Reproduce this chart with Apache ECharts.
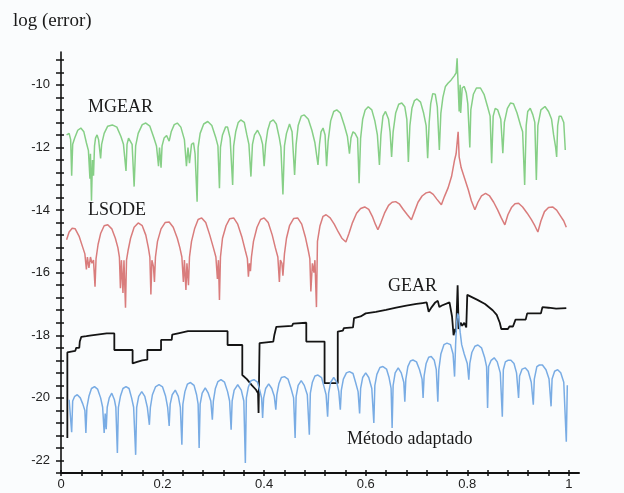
<!DOCTYPE html>
<html>
<head>
<meta charset="utf-8">
<script src="https://cdn.jsdelivr.net/npm/echarts@6/dist/echarts.min.js"></script>
<style>
html,body{margin:0;padding:0;background:#fafcfd;}
#c{width:624px;height:493px;}
</style>
</head>
<body>
<div id="c"></div>
<script>
// ---- data (x, log(error)) ----
const mgear = [[0.011,-11.6],[0.016,-11.55],[0.019,-11.75],[0.021,-12.9],[0.023,-11.9],
[0.027,-11.7],[0.033,-11.45],[0.039,-11.38],[0.045,-11.5],[0.05,-11.85],
[0.054,-12.1],[0.057,-13.0],[0.058,-12.2],[0.060,-13.7],[0.062,-12.4],[0.064,-12.9],[0.066,-11.95],
[0.068,-11.7],[0.071,-11.6],[0.074,-11.75],[0.078,-12.35],[0.08,-11.9],
[0.085,-11.55],[0.092,-11.32],[0.101,-11.28],[0.11,-11.35],[0.118,-11.65],[0.123,-11.9],
[0.128,-12.75],[0.13,-11.9],[0.133,-11.7],[0.136,-11.72],[0.14,-11.9],[0.144,-13.25],[0.147,-11.95],
[0.152,-11.55],[0.16,-11.27],[0.167,-11.22],[0.175,-11.32],[0.183,-11.7],[0.188,-11.95],
[0.192,-12.6],[0.194,-12.0],[0.197,-12.65],[0.199,-11.95],
[0.203,-11.7],[0.208,-11.62],[0.213,-11.8],
[0.217,-11.5],[0.223,-11.27],[0.229,-11.22],[0.236,-11.35],[0.243,-11.75],
[0.247,-12.6],[0.25,-12.0],[0.253,-12.5],[0.257,-11.9],[0.261,-11.85],[0.264,-12.2],
[0.268,-13.73],[0.27,-12.0],
[0.274,-11.55],[0.281,-11.25],[0.289,-11.17],[0.297,-11.3],[0.305,-11.7],[0.309,-11.95],
[0.312,-13.3],[0.314,-12.0],
[0.318,-11.6],[0.324,-11.35],[0.328,-11.35],[0.333,-11.7],
[0.338,-13.2],[0.34,-11.95],
[0.344,-11.5],[0.349,-11.2],[0.354,-11.12],[0.361,-11.2],[0.366,-11.6],[0.37,-11.9],
[0.374,-12.93],[0.377,-11.9],
[0.381,-11.6],[0.387,-11.45],[0.393,-11.65],[0.397,-11.9],
[0.4,-12.6],[0.403,-11.9],
[0.407,-11.45],[0.412,-11.18],[0.418,-11.12],[0.424,-11.25],[0.43,-11.7],[0.433,-12.0],
[0.437,-13.5],[0.44,-11.95],
[0.444,-11.55],[0.45,-11.25],[0.455,-11.5],
[0.46,-12.88],[0.463,-11.9],
[0.467,-11.3],[0.473,-11.0],[0.479,-10.96],[0.487,-11.1],[0.494,-11.45],[0.5,-11.85],
[0.506,-12.56],[0.509,-11.9],
[0.512,-11.5],[0.516,-11.38],[0.52,-11.6],
[0.523,-12.6],[0.526,-11.8],
[0.531,-11.15],[0.537,-10.85],[0.543,-10.8],[0.55,-10.9],[0.558,-11.3],[0.564,-11.65],
[0.568,-12.2],[0.571,-11.7],
[0.575,-11.5],[0.579,-11.55],[0.584,-11.7],
[0.587,-13.14],[0.59,-11.7],
[0.594,-11.1],[0.599,-10.8],[0.605,-10.7],[0.612,-10.8],[0.618,-11.15],[0.623,-11.6],
[0.627,-12.56],[0.63,-11.6],
[0.634,-11.0],[0.639,-10.85],[0.645,-11.1],[0.648,-11.5],
[0.651,-12.3],[0.654,-11.5],
[0.659,-10.9],[0.665,-10.62],[0.671,-10.58],[0.677,-10.7],[0.681,-11.1],
[0.684,-12.46],[0.687,-11.3],
[0.691,-10.75],[0.696,-10.5],[0.701,-10.45],[0.708,-10.55],[0.714,-10.9],[0.719,-11.3],
[0.722,-12.34],[0.725,-11.2],
[0.728,-10.6],[0.732,-10.28],[0.737,-10.3],[0.741,-10.7],
[0.745,-12.08],[0.748,-10.9],
[0.752,-10.4],[0.757,-10.05],[0.762,-9.95],[0.768,-9.85],[0.774,-9.72],[0.778,-9.62],
[0.78,-9.15],[0.781,-9.6],
[0.784,-10.85],[0.786,-10.0],[0.787,-10.9],
[0.79,-10.1],[0.794,-10.05],[0.798,-10.25],[0.801,-10.6],
[0.805,-12.0],[0.807,-10.8],
[0.812,-10.3],[0.818,-10.1],[0.826,-10.1],[0.833,-10.3],[0.84,-10.7],[0.845,-11.0],
[0.848,-12.5],[0.851,-11.0],
[0.855,-10.75],[0.86,-10.8],[0.866,-11.1],
[0.87,-12.18],[0.873,-11.2],
[0.879,-10.75],[0.885,-10.58],[0.891,-10.6],[0.898,-10.9],[0.905,-11.3],[0.909,-11.5],
[0.913,-13.2],[0.916,-11.3],
[0.919,-10.85],[0.924,-10.75],[0.929,-10.95],[0.933,-11.2],
[0.936,-13.04],[0.939,-11.3],
[0.945,-10.8],[0.953,-10.69],[0.96,-10.85],[0.966,-11.1],[0.97,-11.6],
[0.974,-12.0],[0.976,-12.3],[0.978,-11.3],
[0.981,-11.0],[0.985,-11.0],[0.99,-11.2],[0.993,-12.08]];

const lsode = [[0.011,-14.95],[0.016,-14.7],[0.022,-14.58],[0.028,-14.6],[0.036,-14.85],[0.043,-15.2],[0.047,-15.4],
[0.05,-15.9],[0.052,-15.5],[0.055,-15.85],[0.058,-15.5],[0.061,-15.7],[0.064,-15.6],[0.067,-16.45],[0.069,-15.55],
[0.073,-15.1],[0.078,-14.75],[0.085,-14.5],[0.092,-14.47],[0.1,-14.6],[0.107,-14.9],[0.112,-15.2],[0.115,-15.5],
[0.117,-16.5],[0.119,-15.6],[0.122,-16.65],[0.124,-15.6],[0.127,-17.12],[0.129,-15.6],[0.132,-15.3],
[0.137,-14.9],[0.144,-14.55],[0.152,-14.41],[0.16,-14.5],[0.167,-14.8],[0.172,-15.2],[0.175,-15.5],
[0.177,-16.7],[0.179,-15.6],[0.182,-15.8],[0.184,-16.3],[0.186,-15.5],
[0.19,-15.0],[0.197,-14.6],[0.205,-14.4],[0.213,-14.38],[0.221,-14.55],[0.229,-14.9],[0.234,-15.2],[0.238,-15.5],
[0.241,-16.3],[0.243,-15.6],[0.246,-16.55],[0.248,-15.7],[0.251,-16.4],[0.253,-15.5],
[0.257,-15.0],[0.263,-14.6],[0.27,-14.3],[0.277,-14.25],[0.285,-14.4],[0.293,-14.8],[0.3,-15.2],[0.305,-15.5],
[0.308,-16.2],[0.31,-15.6],[0.312,-16.87],[0.314,-15.5],
[0.318,-14.9],[0.325,-14.5],[0.332,-14.28],[0.34,-14.25],[0.348,-14.45],[0.356,-14.85],[0.363,-15.3],[0.367,-15.55],
[0.369,-16.13],[0.371,-15.7],[0.373,-15.95],[0.375,-15.5],
[0.379,-15.0],[0.386,-14.55],[0.393,-14.3],[0.4,-14.25],[0.408,-14.4],[0.416,-14.8],[0.422,-15.2],[0.427,-15.5],
[0.43,-16.3],[0.432,-15.6],[0.435,-15.7],[0.437,-16.1],[0.44,-15.4],
[0.444,-14.9],[0.45,-14.5],[0.458,-14.27],[0.466,-14.25],[0.474,-14.45],[0.481,-14.85],[0.487,-15.3],[0.49,-15.55],
[0.492,-16.6],[0.495,-15.7],[0.498,-16.0],[0.5,-15.6],[0.503,-17.1],[0.505,-15.0],
[0.51,-14.5],[0.516,-14.2],[0.522,-14.15],[0.53,-14.25],[0.538,-14.45],[0.546,-14.7],[0.553,-14.9],[0.561,-15.02],
[0.567,-14.75],[0.574,-14.4],[0.582,-14.1],[0.59,-13.95],[0.598,-13.9],[0.606,-13.98],[0.613,-14.2],[0.619,-14.45],[0.624,-14.63],
[0.63,-14.4],[0.637,-14.1],[0.645,-13.85],[0.652,-13.75],[0.659,-13.73],[0.666,-13.8],[0.674,-13.98],[0.682,-14.15],[0.69,-14.31],
[0.696,-14.05],[0.703,-13.75],[0.711,-13.55],[0.719,-13.45],[0.726,-13.42],[0.733,-13.5],[0.74,-13.65],[0.749,-13.83],
[0.755,-13.57],[0.762,-13.3],[0.769,-12.93],[0.775,-12.4],[0.778,-12.2],[0.782,-11.5],[0.784,-12.3],[0.788,-12.65],[0.795,-13.0],[0.802,-13.35],[0.808,-13.7],[0.815,-13.99],
[0.821,-13.75],[0.828,-13.55],[0.836,-13.47],[0.844,-13.55],[0.852,-13.75],[0.86,-14.0],[0.867,-14.25],[0.874,-14.47],
[0.88,-14.15],[0.887,-13.92],[0.894,-13.8],[0.901,-13.78],[0.909,-13.9],[0.918,-14.1],[0.926,-14.3],[0.933,-14.5],[0.939,-14.7],
[0.945,-14.35],[0.952,-14.05],[0.96,-13.92],[0.968,-13.9],[0.976,-14.0],[0.984,-14.2],[0.99,-14.35],[0.995,-14.55]];

const gear = [[0.0125,-21.28],[0.0125,-18.55],[0.02,-18.52],[0.028,-18.5],[0.03,-18.4],[0.036,-18.4],[0.037,-18.2],[0.04,-18.05],[0.05,-18.03],[0.06,-18.0],[0.063,-17.96],[0.09,-17.94],[0.105,-17.94],[0.105,-18.47],[0.141,-18.47],[0.141,-18.9],[0.15,-18.85],[0.16,-18.8],[0.17,-18.78],[0.17,-18.47],[0.197,-18.47],[0.197,-18.15],[0.218,-18.15],[0.219,-17.98],[0.233,-17.93],[0.25,-17.87],[0.328,-17.87],[0.328,-18.31],[0.357,-18.31],[0.357,-19.27],[0.366,-19.4],[0.376,-19.6],[0.384,-19.74],[0.388,-19.85],[0.389,-20.48],[0.391,-18.25],[0.418,-18.2],[0.42,-18.0],[0.424,-17.73],[0.455,-17.7],[0.457,-17.63],[0.483,-17.6],[0.483,-18.2],[0.519,-18.2],[0.519,-19.53],[0.545,-19.53],[0.545,-17.88],[0.555,-17.85],[0.557,-17.77],[0.575,-17.75],[0.577,-17.45],[0.59,-17.4],[0.6,-17.3],[0.62,-17.25],[0.64,-17.19],[0.66,-17.12],[0.68,-17.05],[0.7,-17.0],[0.712,-16.97],[0.72,-16.95],[0.724,-17.25],[0.73,-17.1],[0.737,-16.95],[0.742,-16.9],[0.745,-17.1],[0.75,-17.05],[0.765,-16.95],[0.77,-17.4],[0.773,-18.0],[0.776,-17.8],[0.778,-17.9],[0.781,-16.4],[0.783,-17.8],[0.787,-17.6],[0.79,-17.7],[0.794,-17.6],[0.798,-17.75],[0.8,-16.71],[0.805,-16.75],[0.82,-16.87],[0.835,-17.0],[0.85,-17.2],[0.858,-17.35],[0.864,-17.6],[0.867,-17.8],[0.88,-17.8],[0.883,-17.72],[0.89,-17.72],[0.895,-17.5],[0.915,-17.5],[0.918,-17.3],[0.945,-17.3],[0.948,-17.1],[0.96,-17.12],[0.975,-17.15],[0.995,-17.13]];

const metodo = [[0.016,-20.06],[0.019,-20.0],[0.021,-21.1],[0.023,-20.1],[0.027,-19.95],[0.032,-19.9],[0.038,-20.0],[0.043,-20.2],[0.047,-20.4],[0.049,-21.12],[0.051,-20.3],
[0.055,-19.95],[0.06,-19.7],[0.066,-19.64],[0.072,-19.72],[0.078,-20.0],[0.082,-20.3],
[0.085,-21.12],[0.087,-20.5],[0.089,-21.0],[0.091,-20.3],
[0.095,-20.0],[0.1,-19.85],[0.105,-20.05],[0.108,-20.3],
[0.111,-21.76],[0.113,-20.3],
[0.117,-19.95],[0.122,-19.7],[0.128,-19.64],[0.134,-19.7],[0.139,-20.0],[0.143,-20.3],
[0.147,-21.82],[0.149,-20.3],
[0.153,-19.95],[0.159,-19.8],[0.165,-19.95],[0.17,-20.3],
[0.174,-20.86],[0.176,-20.3],
[0.18,-19.9],[0.186,-19.65],[0.193,-19.58],[0.2,-19.65],[0.206,-19.95],[0.21,-20.3],
[0.213,-20.9],[0.215,-20.2],
[0.219,-19.9],[0.225,-19.75],[0.231,-19.95],[0.235,-20.3],
[0.238,-21.5],[0.24,-20.2],
[0.244,-19.8],[0.249,-19.56],[0.255,-19.51],[0.262,-19.6],[0.267,-19.9],[0.27,-20.2],
[0.272,-21.6],[0.274,-20.2],
[0.278,-19.85],[0.284,-19.68],[0.29,-19.85],[0.295,-20.1],
[0.298,-20.7],[0.3,-20.1],
[0.304,-19.7],[0.309,-19.48],[0.315,-19.42],[0.322,-19.5],[0.328,-19.8],[0.332,-20.1],
[0.335,-21.02],[0.337,-20.1],
[0.341,-19.75],[0.348,-19.58],[0.355,-19.75],[0.36,-20.1],
[0.363,-22.08],[0.365,-20.0],
[0.369,-19.65],[0.374,-19.45],[0.38,-19.42],[0.387,-19.5],[0.392,-19.8],[0.395,-20.0],
[0.397,-20.64],[0.399,-20.0],
[0.403,-19.7],[0.409,-19.55],[0.415,-19.7],[0.42,-19.95],
[0.423,-20.38],[0.425,-19.9],
[0.429,-19.55],[0.434,-19.35],[0.44,-19.32],[0.447,-19.4],[0.453,-19.7],[0.458,-20.0],
[0.461,-21.28],[0.463,-19.95],
[0.467,-19.6],[0.473,-19.45],[0.479,-19.6],[0.485,-19.9],
[0.489,-21.18],[0.491,-19.85],
[0.495,-19.5],[0.5,-19.3],[0.506,-19.27],[0.513,-19.35],[0.518,-19.65],[0.522,-19.9],
[0.525,-20.6],[0.527,-19.85],
[0.531,-19.5],[0.537,-19.35],[0.543,-19.5],[0.547,-19.8],
[0.55,-20.38],[0.552,-19.75],
[0.556,-19.4],[0.562,-19.2],[0.568,-19.16],[0.575,-19.22],[0.58,-19.5],[0.585,-19.8],
[0.588,-20.5],[0.59,-19.7],
[0.594,-19.35],[0.6,-19.2],[0.606,-19.35],[0.612,-19.7],
[0.616,-20.8],[0.618,-19.6],
[0.622,-19.25],[0.628,-19.03],[0.634,-19.0],[0.641,-19.08],[0.646,-19.35],[0.65,-19.7],
[0.652,-20.96],[0.654,-19.6],
[0.658,-19.2],[0.664,-19.04],[0.67,-19.2],[0.675,-19.5],
[0.677,-20.12],[0.679,-19.4],
[0.683,-19.0],[0.688,-18.82],[0.693,-18.79],[0.7,-18.85],[0.706,-19.1],[0.711,-19.4],
[0.713,-20.0],[0.715,-19.3],
[0.719,-18.9],[0.724,-18.7],[0.729,-18.68],[0.735,-18.8],[0.739,-19.1],
[0.742,-20.12],[0.744,-19.1],
[0.748,-18.6],[0.754,-18.3],[0.76,-18.25],[0.767,-18.3],[0.772,-18.6],
[0.775,-19.32],[0.777,-18.3],[0.779,-17.6],[0.781,-17.3],[0.783,-17.4],[0.786,-17.9],[0.789,-18.3],[0.794,-18.6],[0.8,-18.9],
[0.803,-19.42],[0.805,-18.9],
[0.809,-18.55],[0.815,-18.35],[0.821,-18.31],[0.828,-18.4],[0.834,-18.7],[0.838,-19.0],
[0.84,-20.32],[0.842,-19.0],
[0.847,-18.8],[0.853,-18.72],[0.859,-18.85],[0.865,-19.2],
[0.869,-20.6],[0.871,-19.1],
[0.875,-18.85],[0.88,-18.8],[0.886,-18.8],[0.892,-18.9],[0.897,-19.2],
[0.901,-20.0],[0.903,-19.3],
[0.908,-19.08],[0.914,-19.04],[0.92,-19.15],[0.926,-19.5],
[0.93,-20.22],[0.932,-19.4],
[0.937,-19.0],[0.942,-18.95],[0.948,-18.95],[0.955,-19.1],[0.961,-19.4],
[0.965,-20.27],[0.967,-19.4],
[0.972,-19.15],[0.978,-19.1],[0.984,-19.2],[0.99,-19.5],
[0.995,-21.4],[0.997,-19.6]];

const seriesNames = ['MGEAR', 'LSODE', 'GEAR', 'Método adaptado'];
const xTickLabels = [0, 0.2, 0.4, 0.6, 0.8, 1];
const yTickLabels = [-22, -20, -18, -16, -14, -12, -10];
const yTitle = 'log (error)';

// tick mark positions (minor ticks)
const xTicks = []; for (let i = 0; i <= 25; i++) xTicks.push(+(i * 0.04).toFixed(2));
const yTicks = []; for (let i = 0; i <= 33; i++) yTicks.push(+(-22.4 + i * 0.4).toFixed(1));

const X_MIN = 0, X_MAX = 1.02, Y_MIN = -22.4, Y_MAX = -8.95;
const gridBox = {left: 61, right: 45, top: 52, bottom: 20};
const serif = '"Liberation Serif", "Times New Roman", serif';
const sans = '"Liberation Sans", Arial, sans-serif';

function xAxisDef(gi, main) {
  return {
    type: 'value', gridIndex: gi, min: X_MIN, max: X_MAX,
    axisLine: {show: main, onZero: false, lineStyle: {color: '#111', width: 2}},
    axisTick: {show: true, inside: !main, length: 3, customValues: xTicks, lineStyle: {color: '#111', width: 1.5}},
    axisLabel: {show: main, customValues: xTickLabels, margin: 5, color: '#222', fontFamily: sans, fontSize: 13,
      formatter: v => String(+v.toFixed(1))},
    splitLine: {show: false}
  };
}
function yAxisDef(gi, main) {
  return {
    type: 'value', gridIndex: gi, min: Y_MIN, max: Y_MAX,
    axisLine: {show: main, onZero: false, lineStyle: {color: '#111', width: 1.6}},
    axisTick: {show: true, inside: !main, length: main ? 5 : 3, customValues: yTicks, lineStyle: {color: '#111', width: 1.5}},
    axisLabel: {show: main, customValues: yTickLabels, margin: 11, color: '#222', fontFamily: sans, fontSize: 13,
      formatter: v => String(Math.round(v))},
    splitLine: {show: false}
  };
}

const colors = ['#86cf86', '#d97c7c', '#141414', '#79ace4'];
const datasets = [mgear, lsode, gear, metodo];

const chart = echarts.init(document.getElementById('c'), null, {renderer: 'canvas'});
chart.setOption({
  backgroundColor: '#fafcfd',
  animation: false,
  grid: [Object.assign({}, gridBox), Object.assign({}, gridBox)],
  xAxis: [xAxisDef(0, true), xAxisDef(1, false)],
  yAxis: [yAxisDef(0, true), yAxisDef(1, false)],
  series: datasets.map((d, i) => ({
    name: seriesNames[i], type: 'line', data: d, xAxisIndex: 0, yAxisIndex: 0,
    showSymbol: false, symbol: 'none', silent: true,
    lineStyle: {color: colors[i], width: i === 2 ? 1.8 : 1.5}
  })),
  graphic: [
    {type: 'text', x: 13, y: 21, style: {text: yTitle, font: '19px ' + serif, fill: '#1a1a1a', verticalAlign: 'middle'}},
    {type: 'text', x: 88, y: 107, style: {text: seriesNames[0], font: '18px ' + serif, fill: '#1a1a1a', verticalAlign: 'middle'}},
    {type: 'text', x: 88, y: 210, style: {text: seriesNames[1], font: '18px ' + serif, fill: '#1a1a1a', verticalAlign: 'middle'}},
    {type: 'text', x: 388, y: 286, style: {text: seriesNames[2], font: '18px ' + serif, fill: '#1a1a1a', verticalAlign: 'middle'}},
    {type: 'text', x: 347, y: 439, style: {text: seriesNames[3], font: '18px ' + serif, fill: '#1a1a1a', verticalAlign: 'middle'}}
  ]
});
</script>
</body>
</html>
